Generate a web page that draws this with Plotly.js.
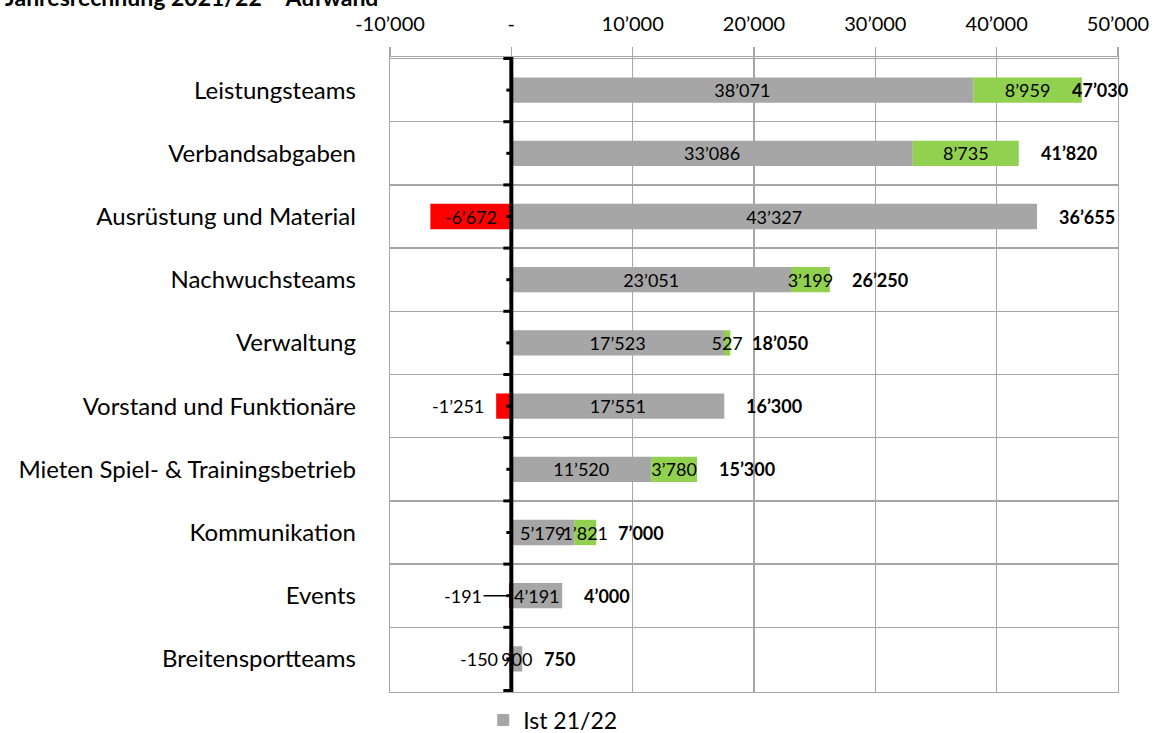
<!DOCTYPE html>
<html>
<head>
<meta charset="utf-8">
<script src="https://cdn.plot.ly/plotly-3.0.1.min.js"></script>
<style>html,body{margin:0;padding:0;background:#fff;}#chart{width:1156px;height:733px;}</style>
</head>
<body>
<div id="chart"></div>
<script>
// ---- data ----
const categories = ['Leistungsteams','Verbandsabgaben','Ausrüstung und Material','Nachwuchsteams','Verwaltung','Vorstand und Funktionäre','Mieten Spiel- & Trainingsbetrieb','Kommunikation','Events','Breitensportteams'];
const ist21 = [38071, 33086, 43327, 23051, 17523, 17551, 11520, 5179, 4191, 900];
const mehr = [8959, 8735, null, 3199, 527, null, 3780, 1821, null, null];
const weniger = [null, null, -6672, null, null, -1251, null, null, -191, -150];
const budget = [47030, 41820, 36655, 26250, 18050, 16300, 15300, 7000, 4000, 750];
const xTicks = [-10000, 0, 10000, 20000, 30000, 40000, 50000];
const titleText = 'Jahresrechnung 2021/22 – Aufwand';
const legendName = 'Ist 21/22';

// ---- helpers ----
function fmt(v) {
  if (v === 0) return '-';
  const s = Math.abs(Math.round(v)).toString().replace(/\B(?=(\d{3})+(?!\d))/g, '\u2019');
  return (v < 0 ? '-' : '') + s;
}
const FONT = 'Lato, "Open Sans", sans-serif';
const GRID = '#a6a6a6';
const xMax = xTicks[xTicks.length - 1];
const leaderFor = ['Events'];

const traces = [
  {type: 'bar', orientation: 'h', name: legendName, y: categories, x: ist21,
   marker: {color: '#a6a6a6'}, text: ist21.map(fmt), textposition: 'inside',
   insidetextanchor: 'middle', textangle: 0, constraintext: 'none',
   textfont: {family: FONT, size: 18, color: '#000'}, hoverinfo: 'skip'},
  {type: 'bar', orientation: 'h', name: 'mehr', showlegend: false, y: categories, x: mehr,
   marker: {color: '#92d050'}, text: mehr.map(v => v ? fmt(v) : ''), textposition: 'inside',
   insidetextanchor: 'middle', textangle: 0, constraintext: 'none',
   textfont: {family: FONT, size: 18, color: '#000'}, hoverinfo: 'skip'},
  {type: 'bar', orientation: 'h', name: 'weniger', showlegend: false, y: categories, x: weniger,
   marker: {color: '#ff0000'}, text: weniger.map(v => (v !== null && v < -3000) ? fmt(v) : ''), textposition: 'inside',
   insidetextanchor: 'middle', textangle: 0, constraintext: 'none',
   textfont: {family: FONT, size: 18, color: '#000'}, hoverinfo: 'skip'}
];

const annotations = [];
// totals
categories.forEach((c, i) => {
  const end = Math.max(ist21[i] + (mehr[i] || 0), ist21[i]);
  if (xMax - end < 5000) {
    annotations.push({x: (end + xMax) / 2, y: c, xref: 'x', yref: 'y', text: '<b>' + fmt(budget[i]) + '</b>',
      showarrow: false, xanchor: 'center', font: {family: FONT, size: 18, color: '#000'}});
  } else {
    annotations.push({x: end, y: c, xref: 'x', yref: 'y', text: '<b>' + fmt(budget[i]) + '</b>',
      showarrow: false, xanchor: 'left', xshift: 20, font: {family: FONT, size: 18, color: '#000'}});
  }
});
// small negative labels outside
categories.forEach((c, i) => {
  const v = weniger[i];
  if (v === null || v < -3000) return;
  if (leaderFor.includes(c)) {
    annotations.push({x: v, y: c, xref: 'x', yref: 'y', text: fmt(v), showarrow: true, arrowhead: 0,
      arrowwidth: 1.5, arrowcolor: '#000', ax: -46, ay: 0, standoff: 0,
      font: {family: FONT, size: 18, color: '#000'}});
  } else {
    annotations.push({x: v, y: c, xref: 'x', yref: 'y', text: fmt(v), showarrow: false,
      xanchor: 'right', xshift: -10, font: {family: FONT, size: 18, color: '#000'}});
  }
});
// title (cut off at the top like the reference)
annotations.push({xref: 'paper', yref: 'paper', x: -0.532, y: 1, xanchor: 'left', yanchor: 'bottom',
  yshift: 44, showarrow: false, text: '<b>' + titleText + '</b>', font: {family: FONT, size: 23, color: '#000'}});

// black vertical axis at zero with tick marks
const shapes = [{type: 'line', xref: 'x', yref: 'paper', x0: 0, x1: 0, y0: 0, y1: 1,
  line: {color: '#000', width: 4}, layer: 'above'}];
for (let i = 0; i <= categories.length; i++) {
  shapes.push({type: 'line', xref: 'x', xsizemode: 'pixel', xanchor: 0, x0: -8, x1: 0,
    yref: 'y', y0: i - 0.5, y1: i - 0.5, line: {color: '#000', width: 3}, layer: 'above'});
}
for (let i = 0; i < categories.length; i++) {
  shapes.push({type: 'line', xref: 'x', xsizemode: 'pixel', xanchor: 0, x0: -5, x1: 0,
    yref: 'y', y0: i, y1: i, line: {color: '#000', width: 3}, layer: 'above'});
}

const layout = {
  width: 1156, height: 733,
  margin: {l: 390, r: 38, t: 57, b: 41, pad: 0, autoexpand: false},
  paper_bgcolor: '#fff', plot_bgcolor: '#fff',
  barmode: 'relative', bargap: 0.6,
  font: {family: FONT, color: '#000'},
  xaxis: {range: [xTicks[0], xMax], side: 'top', tickmode: 'array', tickvals: xTicks,
    ticktext: xTicks.map(fmt), ticks: 'outside', ticklen: 9, tickwidth: 1.3, tickcolor: GRID,
    showgrid: true, gridcolor: GRID, gridwidth: 1.3, zeroline: false,
    showline: true, mirror: true, linecolor: GRID, linewidth: 1.3, automargin: false,
    tickfont: {family: FONT, size: 20, color: '#000'}, ticklabelstandoff: 8, fixedrange: true},
  yaxis: {type: 'category', autorange: 'reversed', categoryorder: 'array', categoryarray: categories,
    showgrid: true, tickson: 'boundaries', gridcolor: GRID, gridwidth: 1.3, ticks: '',
    showline: true, mirror: true, linecolor: GRID, linewidth: 1.3, zeroline: false, automargin: false,
    tickfont: {family: FONT, size: 24, color: '#000'}, ticklabelstandoff: 28, fixedrange: true},
  showlegend: true,
  legend: {orientation: 'h', x: 0.128, xanchor: 'left', y: -0.044, yanchor: 'middle',
    font: {family: FONT, size: 23, color: '#000'}, bgcolor: 'rgba(0,0,0,0)'},
  annotations: annotations,
  shapes: shapes
};

Plotly.newPlot('chart', traces, layout, {displayModeBar: false, staticPlot: true});
</script>
</body>
</html>
